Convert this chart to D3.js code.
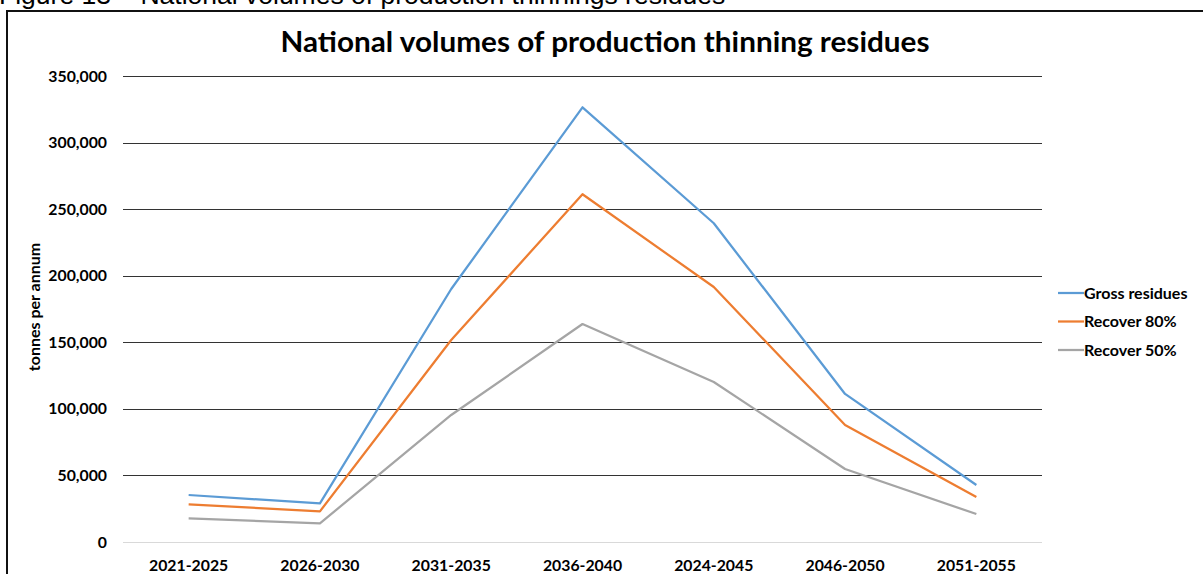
<!DOCTYPE html>
<html lang="en">

<head>
    <meta charset="UTF-8" />
    <title>National volumes of production thinning residues</title>
    <script src="https://d3js.org/d3.v7.min.js"></script>
    <style>
        body {
            margin: 0;
            background: #fff;
        }

        text {
            font-family: Lato, "Open Sans", sans-serif;
        }
    </style>
</head>

<body>
    <script>
        // chart data
        var periods = ["2021-2025", "2026-2030", "2031-2035", "2036-2040", "2024-2045", "2046-2050", "2051-2055"];
        var grossResidues = [35300, 29000, 190000, 326500, 239400, 111200, 42800];
        var recover80 = [28300, 23000, 151700, 261200, 191500, 87900, 33800];
        var recover50 = [17800, 14000, 95400, 163700, 120200, 54800, 21000];
        var seriesNames = ["Gross residues", "Recover 80%", "Recover 50%"];
        var yTicks = [0, 50000, 100000, 150000, 200000, 250000, 300000, 350000];

        var colors = ["#5b9bd5", "#ed7d31", "#a5a5a5"];
        var allSeries = [grossResidues, recover80, recover50];

        var w = 1203;
        var h = 574;
        var plotLeft = 123, plotRight = 1042, plotTop = 76, plotBottom = 542;

        var svg = d3.select("body")
            .append("svg")
            .attr("width", w)
            .attr("height", h);

        // caption, cut off at the top of the page
        svg.append("text")
            .attr("x", -1)
            .attr("y", 4)
            .style("font-family", "'Liberation Sans', Arial, sans-serif")
            .style("font-size", "26.5px")
            .text("Figure 13 \u2013 National volumes of production thinnings residues");

        // chart frame
        svg.append("rect")
            .attr("x", 7)
            .attr("y", 11)
            .attr("width", w + 20)
            .attr("height", h + 20)
            .style("fill", "#fff")
            .style("stroke", "#111")
            .style("stroke-width", 2);

        var xScale = d3.scalePoint()
            .domain(periods)
            .range([plotLeft, plotRight])
            .padding(0.5);

        var yScale = d3.scaleLinear()
            .domain([0, 350000])
            .range([plotBottom, plotTop]);

        // gridlines
        svg.append("g")
            .selectAll("line")
            .data(yTicks)
            .enter()
            .append("line")
            .attr("x1", plotLeft)
            .attr("x2", plotRight)
            .attr("y1", function (d) { return Math.round(yScale(d)) + 0.5; })
            .attr("y2", function (d) { return Math.round(yScale(d)) + 0.5; })
            .style("stroke", function (d) { return d === 0 ? "#d9d9d9" : "#333"; })
            .style("stroke-width", 1);

        // y tick labels
        svg.append("g")
            .selectAll("text")
            .data(yTicks)
            .enter()
            .append("text")
            .attr("x", 107)
            .attr("y", function (d) { return yScale(d) + 5.5; })
            .attr("text-anchor", "end")
            .style("font-size", "15.8px")
            .style("font-weight", "bold")
            .text(function (d) { return d3.format(",")(d); });

        // x labels
        svg.append("g")
            .selectAll("text")
            .data(periods)
            .enter()
            .append("text")
            .attr("x", function (d) { return xScale(d); })
            .attr("y", 571)
            .attr("text-anchor", "middle")
            .style("font-size", "15.8px")
            .style("font-weight", "bold")
            .text(function (d) { return d; });

        // y axis title
        svg.append("text")
            .attr("transform", "translate(40, 307) rotate(-90)")
            .attr("text-anchor", "middle")
            .style("font-size", "16px")
            .style("font-weight", "bold")
            .text("tonnes per annum");

        // chart title
        svg.append("text")
            .attr("x", 605)
            .attr("y", 52)
            .attr("text-anchor", "middle")
            .attr("textLength", 649)
            .attr("lengthAdjust", "spacingAndGlyphs")
            .style("font-size", "28px")
            .style("font-weight", "bold")
            .text("National volumes of production thinning residues");

        // series lines
        var line = d3.line()
            .x(function (d, i) { return xScale(periods[i]); })
            .y(function (d) { return yScale(d); });

        svg.append("g")
            .selectAll("path")
            .data(allSeries)
            .enter()
            .append("path")
            .attr("d", line)
            .style("fill", "none")
            .style("stroke", function (d, i) { return colors[i]; })
            .style("stroke-width", 2.25)
            .style("stroke-linejoin", "round");

        // legend
        var legend = svg.append("g")
            .selectAll("g")
            .data(seriesNames)
            .enter()
            .append("g")
            .attr("transform", function (d, i) { return "translate(1058," + (293 + i * 28.5) + ")"; });

        legend.append("line")
            .attr("x1", 0)
            .attr("x2", 26)
            .style("stroke", function (d, i) { return colors[i]; })
            .style("stroke-width", 2.25);

        legend.append("text")
            .attr("x", 26)
            .attr("y", 5.5)
            .style("font-size", "16px")
            .style("font-weight", "bold")
            .text(function (d) { return d; });
    </script>
</body>

</html>
